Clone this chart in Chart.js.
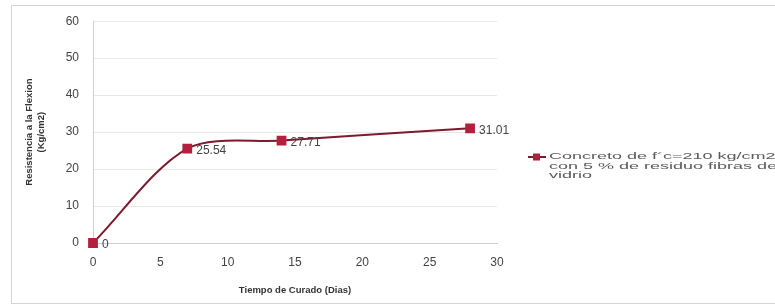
<!DOCTYPE html>
<html>
<head>
<meta charset="utf-8">
<script src="https://cdn.jsdelivr.net/npm/chart.js@4.4.0/dist/chart.umd.min.js"></script>
<style>
    html, body { margin: 0; padding: 0; background: #fff; }
    #wrap { width: 775px; height: 308px; }
</style>
</head>
<body>
<div id="wrap"><canvas id="flexChart" width="775" height="308"></canvas></div>
<script>
// Curing time (days) and flexural strength (kg/cm2)
const curingDays = [0, 7, 14, 28];
const strength = [0, 25.54, 27.71, 31.01];
const yTicks = [0, 10, 20, 30, 40, 50, 60];
const xTicks = [0, 5, 10, 15, 20, 25, 30];
const seriesLabel = ["Concreto de f´c=210 kg/cm2", "con 5 % de residuo fibras de", "vidrio"];
const yTitle = ["Resistencia a la Flexion", "(Kg/cm2)"];
const xTitle = "Tiempo de Curado (Dias)";

const lineColor = '#7d1a2c';
const markerColor = '#b3203e';
const fontFamily = '"Liberation Sans", Arial, sans-serif';

// value labels next to each point
const pointLabels = {
    id: 'pointLabels',
    afterDatasetsDraw(chart) {
        const ctx = chart.ctx;
        const meta = chart.getDatasetMeta(0);
        ctx.save();
        ctx.font = '12px ' + fontFamily;
        ctx.fillStyle = '#444';
        ctx.textBaseline = 'middle';
        meta.data.forEach((pt, i) => {
            ctx.fillText(String(strength[i]), pt.x + 9, pt.y + 2);
        });
        ctx.restore();
    }
};

// frame + legend on the right
const frameLegend = {
    id: 'frameLegend',
    afterDraw(chart) {
        const ctx = chart.ctx;
        ctx.save();
        ctx.strokeStyle = '#d4d4d4';
        ctx.lineWidth = 1;
        ctx.strokeRect(11.5, 5.5, 775, 298);

        const lx = 528, ly = 157;
        ctx.strokeStyle = lineColor;
        ctx.lineWidth = 2;
        ctx.beginPath();
        ctx.moveTo(lx, ly);
        ctx.lineTo(lx + 18, ly);
        ctx.stroke();
        ctx.fillStyle = markerColor;
        ctx.fillRect(lx + 5, ly - 3.5, 7, 7);

        // the legend text is wide in the original, stretch it a bit
        ctx.font = '9px ' + fontFamily;
        ctx.fillStyle = '#5a5a5a';
        ctx.textBaseline = 'middle';
        ctx.translate(lx + 21, ly);
        ctx.scale(2.0, 1);
        seriesLabel.forEach((t, i) => ctx.fillText(t, 0, i * 9.5));
        ctx.restore();
    }
};

new Chart(document.getElementById('flexChart').getContext('2d'), {
    type: 'line',
    data: {
        datasets: [{
            label: seriesLabel.join(' '),
            data: curingDays.map((d, i) => ({ x: d, y: strength[i] })),
            borderColor: lineColor,
            borderWidth: 2,
            tension: 0.3,
            clip: false,
            pointStyle: 'rect',
            pointRadius: 5.5,
            pointBackgroundColor: markerColor,
            pointBorderColor: markerColor
        }]
    },
    options: {
        responsive: false,
        animation: false,
        layout: { padding: { left: 20, top: 20, right: 278, bottom: 8 } },
        plugins: {
            legend: { display: false },
            tooltip: { enabled: false }
        },
        scales: {
            x: {
                type: 'linear',
                min: 0,
                max: 30,
                afterBuildTicks: (s) => { s.ticks = xTicks.map(v => ({ value: v })); },
                afterFit: (s) => { s.height = 57; },
                grid: { display: false, drawTicks: true, tickLength: 4, color: '#c8c8c8' },
                border: { color: '#d0d0d0' },
                ticks: {
                    padding: 8,
                    color: '#444',
                    font: { family: fontFamily, size: 12 }
                },
                title: {
                    display: true,
                    text: xTitle,
                    color: '#333',
                    padding: { top: 6 },
                    font: { family: fontFamily, size: 9.5, weight: 'bold' }
                }
            },
            y: {
                min: 0,
                max: 60,
                afterBuildTicks: (s) => { s.ticks = yTicks.map(v => ({ value: v })); },
                afterFit: (s) => { s.width = 73; },
                grid: { color: '#e8e8e8', drawTicks: false },
                border: { color: '#d0d0d0' },
                ticks: {
                    padding: 14,
                    color: '#444',
                    font: { family: fontFamily, size: 12 }
                },
                title: {
                    display: true,
                    text: yTitle,
                    color: '#333',
                    padding: { bottom: 4 },
                    font: { family: fontFamily, size: 9.5, weight: 'bold', lineHeight: 1.2 }
                }
            }
        }
    },
    plugins: [pointLabels, frameLegend]
});
</script>
</body>
</html>
